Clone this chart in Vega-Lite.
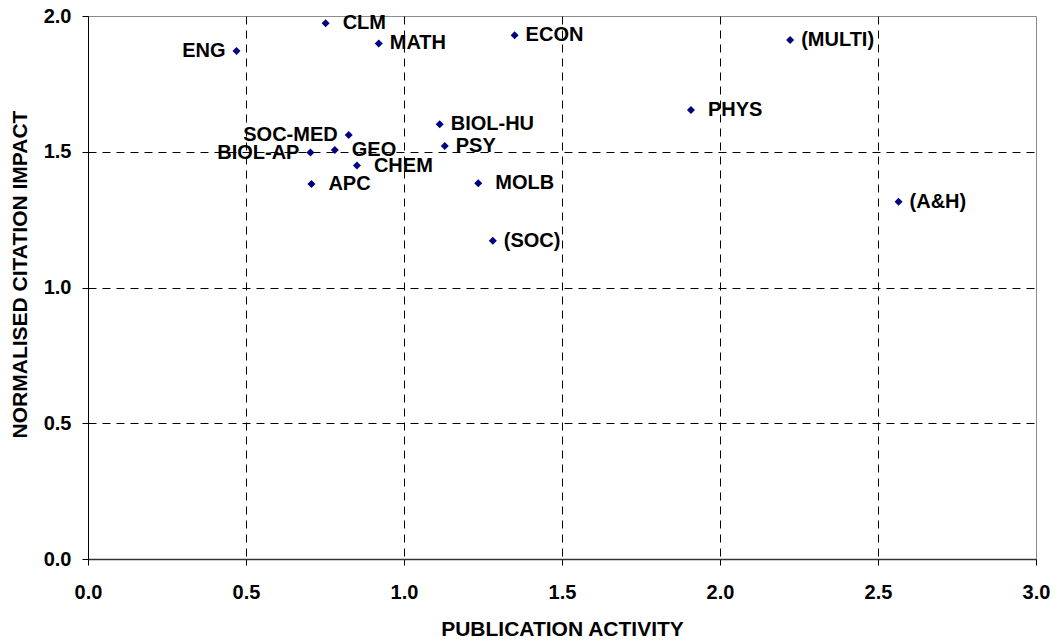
{
  "$schema": "https://vega.github.io/schema/vega-lite/v6.json",
  "width": 948,
  "height": 543,
  "autosize": {"type": "none"},
  "padding": {"left": 88, "top": 16, "right": 19, "bottom": 82},
  "background": "white",
  "config": {
    "view": {"stroke": "#8c8c8c", "strokeWidth": 1},
    "font": "Liberation Sans",
    "axis": {
      "labelFont": "Liberation Sans",
      "labelFontSize": 20,
      "labelFontWeight": "bold",
      "labelColor": "black",
      "titleFont": "Liberation Sans",
      "titleFontSize": 21,
      "titleFontWeight": "bold",
      "titleColor": "black",
      "tickColor": "black",
      "tickSize": 6,
      "gridColor": "black",
      "gridDash": [8, 6],
      "gridWidth": 1
    }
  },
  "data": {
    "values": [
      {"field": "ENG", "activity": 0.470, "impact": 1.871},
      {"field": "CLM", "activity": 0.752, "impact": 1.973},
      {"field": "MATH", "activity": 0.920, "impact": 1.899},
      {"field": "ECON", "activity": 1.350, "impact": 1.929},
      {"field": "(MULTI)", "activity": 2.222, "impact": 1.912},
      {"field": "PHYS", "activity": 1.908, "impact": 1.654},
      {"field": "BIOL-HU", "activity": 1.113, "impact": 1.601},
      {"field": "SOC-MED", "activity": 0.825, "impact": 1.562},
      {"field": "PSY", "activity": 1.129, "impact": 1.521},
      {"field": "GEO", "activity": 0.781, "impact": 1.506},
      {"field": "BIOL-AP", "activity": 0.704, "impact": 1.497},
      {"field": "CHEM", "activity": 0.851, "impact": 1.449},
      {"field": "APC", "activity": 0.707, "impact": 1.381},
      {"field": "MOLB", "activity": 1.235, "impact": 1.384},
      {"field": "(SOC)", "activity": 1.281, "impact": 1.172},
      {"field": "(A&H)", "activity": 2.565, "impact": 1.316}
    ]
  },
  "encoding": {
    "x": {
      "field": "activity",
      "type": "quantitative",
      "scale": {"domain": [0, 3], "nice": false, "zero": false},
      "axis": {
        "title": "PUBLICATION ACTIVITY",
        "values": [0, 0.5, 1, 1.5, 2, 2.5, 3],
        "format": ".1f",
        "labelPadding": 17,
        "labelFlush": false,
        "domainColor": "#333333",
        "domainWidth": 1.5,
        "gridOpacity": {"condition": {"test": "datum.value >= 3 || datum.value <= 0", "value": 0}, "value": 1},
        "titleBaseline": "top",
        "titleY": 59
      }
    },
    "y": {
      "field": "impact",
      "type": "quantitative",
      "scale": {"domain": [0, 2], "nice": false, "zero": false},
      "axis": {
        "title": "NORMALISED CITATION IMPACT",
        "values": [0, 0.5, 1, 1.5, 2],
        "format": ".1f",
        "labelPadding": 11,
        "labelFlush": false,
        "domainColor": "black",
        "domainWidth": 1,
        "gridOpacity": {"condition": {"test": "datum.value >= 2 || datum.value <= 0", "value": 0}, "value": 1},
        "titleAngle": 270,
        "titleAlign": "center",
        "titleBaseline": "middle",
        "titleX": -68,
        "titleY": 258
      }
    }
  },
  "layer": [
    {
      "mark": {"type": "point", "shape": "diamond", "filled": true, "size": 64, "color": "#000080", "opacity": 1}
    },
    {
      "transform": [{"filter": {"field": "field", "oneOf": ["ENG", "SOC-MED", "BIOL-AP"]}}],
      "mark": {"type": "text", "align": "right", "baseline": "middle", "dx": -11, "font": "Liberation Sans", "fontSize": 20, "fontWeight": "bold", "color": "black"},
      "encoding": {"text": {"field": "field"}}
    },
    {
      "transform": [{"filter": {"field": "field", "oneOf": ["MATH", "ECON", "BIOL-HU", "PSY", "(SOC)", "(MULTI)", "(A&H)"]}}],
      "mark": {"type": "text", "align": "left", "baseline": "middle", "dx": 11, "font": "Liberation Sans", "fontSize": 20, "fontWeight": "bold", "color": "black"},
      "encoding": {"text": {"field": "field"}}
    },
    {
      "transform": [{"filter": {"field": "field", "oneOf": ["CLM", "GEO", "CHEM", "APC", "MOLB", "PHYS"]}}],
      "mark": {"type": "text", "align": "left", "baseline": "middle", "dx": 17, "font": "Liberation Sans", "fontSize": 20, "fontWeight": "bold", "color": "black"},
      "encoding": {"text": {"field": "field"}}
    }
  ]
}
